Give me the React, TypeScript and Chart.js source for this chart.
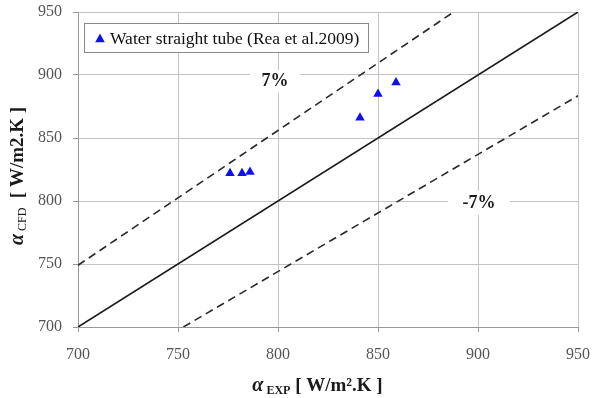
import React, { useEffect, useRef } from "react";
import { Chart, registerables } from "chart.js";

Chart.register(...registerables);

// ---- data ----
const seriesLabel = "Water straight tube (Rea et al.2009)";
const expValues = [776, 782, 786, 841, 850, 859];
const cfdValues = [822, 822, 823, 866, 885, 894];
const identityLine = [{ x: 700, y: 700 }, { x: 950, y: 950 }];
const plus7Line = [{ x: 700, y: 749 }, { x: 887.85, y: 950 }];
const minus7Line = [{ x: 752.7, y: 700 }, { x: 950, y: 883.5 }];
const plus7Label = { text: "7%", x: 798.5, y: 895 };
const minus7Label = { text: "-7%", x: 900.5, y: 798.5 };
const axisMin = 700;
const axisMax = 950;
const axisStep = 50;

const SERIF = "'Liberation Serif', 'Times New Roman', serif";

type Seg = { t: string; font: string; dy?: number };

function drawSegs(ctx: CanvasRenderingContext2D, segs: Seg[], x: number, y: number, center: boolean) {
  let total = 0;
  for (const s of segs) {
    ctx.font = s.font;
    total += ctx.measureText(s.t).width;
  }
  let cx = center ? x - total / 2 : x;
  for (const s of segs) {
    ctx.font = s.font;
    ctx.fillText(s.t, cx, y + (s.dy || 0));
    cx += ctx.measureText(s.t).width;
  }
}

const decorPlugin = {
  id: "decor",
  afterDatasetsDraw(chart: any) {
    const ctx: CanvasRenderingContext2D = chart.ctx;
    const xs = chart.scales.x;
    const ys = chart.scales.y;
    ctx.save();
    const labels = [
      { l: plus7Label, w: 50, h: 22 },
      { l: minus7Label, w: 62, h: 24 },
    ];
    for (const { l, w, h } of labels) {
      const px = xs.getPixelForValue(l.x);
      const py = ys.getPixelForValue(l.y);
      ctx.fillStyle = "#ffffff";
      ctx.fillRect(px - w / 2, py - h / 2, w, h);
      ctx.fillStyle = "#1a1a1a";
      ctx.font = `bold 18px ${SERIF}`;
      ctx.textAlign = "center";
      ctx.textBaseline = "middle";
      ctx.fillText(l.text, px, py);
    }
    ctx.restore();
  },
  afterDraw(chart: any) {
    const ctx: CanvasRenderingContext2D = chart.ctx;
    ctx.save();
    // legend box
    const bx = 84, by = 23, bw = 284, bh = 29;
    ctx.fillStyle = "#ffffff";
    ctx.fillRect(bx, by, bw, bh);
    ctx.strokeStyle = "#8a8a8a";
    ctx.lineWidth = 1;
    ctx.strokeRect(bx + 0.5, by + 0.5, bw, bh);
    const tx = 100, ty = 39, r = 5.5;
    ctx.fillStyle = "#1010ee";
    ctx.beginPath();
    ctx.moveTo(tx, ty - r);
    ctx.lineTo(tx + r * 0.87, ty + r * 0.6);
    ctx.lineTo(tx - r * 0.87, ty + r * 0.6);
    ctx.closePath();
    ctx.fill();
    ctx.fillStyle = "#111111";
    ctx.font = `17.5px ${SERIF}`;
    ctx.textAlign = "left";
    ctx.textBaseline = "middle";
    ctx.fillText(chart.data.datasets[0].label, 110, 39);

    // x axis title
    ctx.fillStyle = "#1a1a1a";
    ctx.textBaseline = "alphabetic";
    ctx.textAlign = "left";
    drawSegs(
      ctx,
      [
        { t: "\u03b1", font: `bold italic 20px ${SERIF}` },
        { t: " EXP", font: `bold 12px ${SERIF}`, dy: 3 },
        { t: " [ W/m\u00b2.K ]", font: `bold 19px ${SERIF}` },
      ],
      317.5,
      391,
      true
    );

    // y axis title
    ctx.save();
    ctx.translate(23, 176);
    ctx.rotate(-Math.PI / 2);
    drawSegs(
      ctx,
      [
        { t: "\u03b1", font: `bold italic 20px ${SERIF}` },
        { t: " CFD", font: `12px ${SERIF}`, dy: 3 },
        { t: "  [ W/m2.K ]", font: `bold 19px ${SERIF}` },
      ],
      0,
      0,
      true
    );
    ctx.restore();
    ctx.restore();
  },
};

export default function App() {
  const ref = useRef<HTMLCanvasElement | null>(null);
  useEffect(() => {
    if (!ref.current) return;
    const points = expValues.map((v, i) => ({ x: v, y: cfdValues[i] }));
    const tickFont = { family: SERIF, size: 16 };
    const chart = new Chart(ref.current, {
      type: "scatter",
      data: {
        datasets: [
          {
            label: seriesLabel,
            data: points,
            pointStyle: "triangle",
            pointRadius: 5.5,
            backgroundColor: "#1010ee",
            borderColor: "#1010ee",
            borderWidth: 0,
            order: 0,
          },
          {
            label: "y=x",
            type: "line",
            data: identityLine,
            borderColor: "#1a1a1a",
            borderWidth: 1.6,
            pointRadius: 0,
            order: 1,
          } as any,
          {
            label: "+7%",
            type: "line",
            data: plus7Line,
            borderColor: "#2a2a2a",
            borderWidth: 1.6,
            borderDash: [8, 5],
            pointRadius: 0,
            order: 1,
          } as any,
          {
            label: "-7%",
            type: "line",
            data: minus7Line,
            borderColor: "#2a2a2a",
            borderWidth: 1.6,
            borderDash: [8, 5],
            pointRadius: 0,
            order: 1,
          } as any,
        ],
      },
      options: {
        responsive: false,
        animation: false,
        devicePixelRatio: 1,
        layout: { padding: { left: 0, top: 12, right: 15, bottom: 0 } },
        plugins: {
          legend: { display: false },
          tooltip: { enabled: false },
        },
        scales: {
          x: {
            type: "linear",
            min: axisMin,
            max: axisMax,
            ticks: { stepSize: axisStep, color: "#555555", font: tickFont, padding: 13 },
            grid: { color: "#c4c4c4", lineWidth: 1, tickLength: 5, tickColor: "#999999" },
            border: { color: "#999999", width: 1 },
            afterFit: (s: any) => {
              s.height = 71;
              s.paddingLeft = 0;
              s.paddingRight = 0;
            },
          },
          y: {
            type: "linear",
            min: axisMin,
            max: axisMax,
            ticks: { stepSize: axisStep, color: "#555555", font: tickFont, padding: 11 },
            grid: { color: "#c4c4c4", lineWidth: 1, tickLength: 5, tickColor: "#999999" },
            border: { color: "#999999", width: 1 },
            afterFit: (s: any) => {
              s.width = 78;
              s.paddingTop = 0;
              s.paddingBottom = 0;
            },
          },
        },
      },
      plugins: [decorPlugin],
    } as any);
    return () => chart.destroy();
  }, []);
  return (
    <div style={{ position: "fixed", left: 0, top: 0, width: 593, height: 398, background: "#fff" }}>
      <canvas ref={ref} width={593} height={398} style={{ display: "block" }} />
    </div>
  );
}
